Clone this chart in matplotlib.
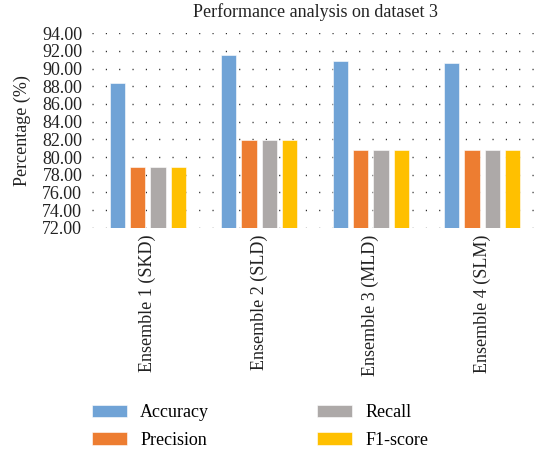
import numpy as np
import matplotlib
matplotlib.use('Agg')
import matplotlib.pyplot as plt

groups = ['Ensemble 1 (SKD)', 'Ensemble 2 (SLD)', 'Ensemble 3 (MLD)', 'Ensemble 4 (SLM)']
metrics = ['Accuracy', 'Precision', 'Recall', 'F1-score']
accuracy = [88.4, 91.5, 90.8, 90.6]
precision = [78.9, 81.9, 80.8, 80.8]
recall = [78.9, 81.9, 80.8, 80.8]
f1_score = [78.9, 81.9, 80.8, 80.8]
series = [accuracy, precision, recall, f1_score]
colors = ['#70A3D6', '#ED7D31', '#ADA9A8', '#FFC000']
yticks = np.arange(72, 94.1, 2)

plt.rcParams['font.family'] = ['Liberation Serif', 'DejaVu Serif']
fs = 13

fig = plt.figure(figsize=(5.38, 4.54), dpi=100)
ax = fig.add_axes([0.171, 0.498, 0.829, 0.429])

x = np.arange(len(groups))
step = 0.183
width = 0.136
for i, (vals, name) in enumerate(zip(series, metrics)):
    ax.bar(x + (i - 1.5) * step, vals, width, color=colors[i], label=name,
           edgecolor='white', linewidth=0.4, zorder=3)

ax.set_xlim(-0.5, len(groups) - 0.5)
ax.set_ylim(72, 94)
ax.set_yticks(yticks)
ax.set_yticklabels([f'{v:.2f}' for v in yticks])
ax.set_xticks(x)
ax.set_xticklabels(groups, rotation=90)
ax.tick_params(length=0, labelsize=fs, colors='#222222')
ax.tick_params(axis='y', pad=7)
ax.tick_params(axis='x', pad=5)
for s in ax.spines.values():
    s.set_visible(False)
ax.yaxis.grid(True, color='#222222', linewidth=1, linestyle=(0, (0.8, 8.8)), zorder=0)
ax.set_axisbelow(True)

ax.set_ylabel('Percentage (%)', fontsize=fs, color='#222222', labelpad=8)
fig.text(0.587, 0.974, 'Performance analysis on dataset 3', ha='center', va='center',
         fontsize=fs, color='#222222')

fig.legend(loc='upper left', bbox_to_anchor=(0.171, 0.11), ncol=2, frameon=False,
           fontsize=fs, handlelength=1.94, handleheight=0.66, handletextpad=0.72,
           columnspacing=6.0, labelspacing=0.6, borderpad=0, borderaxespad=0)

fig.savefig('out.png', dpi=100)
